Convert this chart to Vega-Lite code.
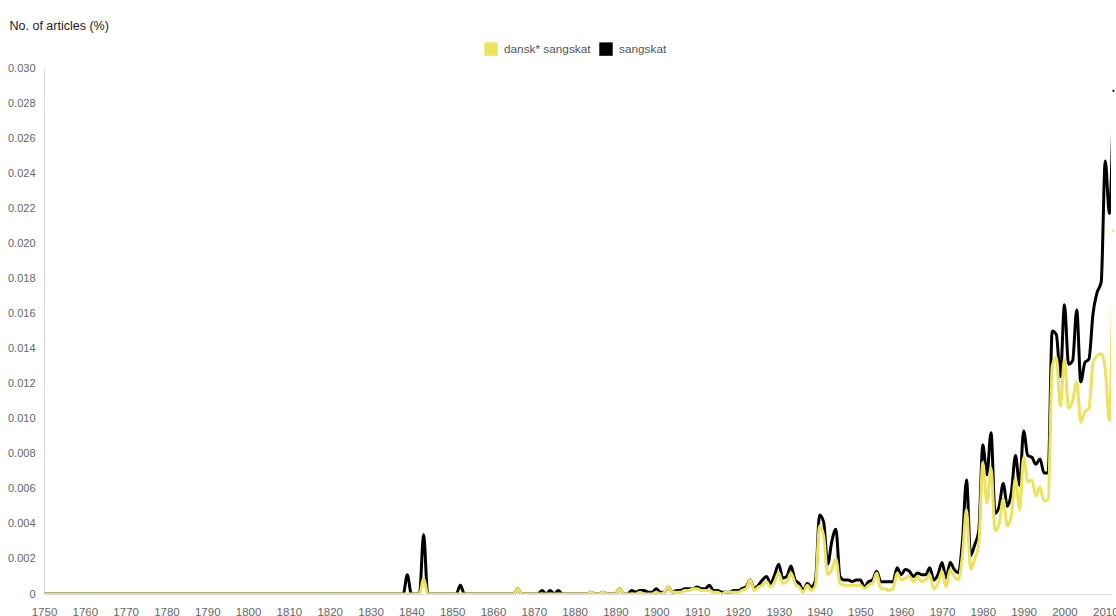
{
"$schema": "https://vega.github.io/schema/vega-lite/v6.json",
"width": 1067, "height": 526,
"autosize": {"type": "none"},
"padding": {"left": 44, "top": 68, "right": 5, "bottom": 22},
"background": "white",
"config": {"view": {"stroke": null}, "font": "Liberation Sans, Arial, sans-serif"},
"data": {"values": [
{"year":1750,"d":0,"s":0},{"year":1751,"d":0,"s":0},{"year":1752,"d":0,"s":0},{"year":1753,"d":0,"s":0},{"year":1754,"d":0,"s":0},{"year":1755,"d":0,"s":0},{"year":1756,"d":0,"s":0},{"year":1757,"d":0,"s":0},{"year":1758,"d":0,"s":0},{"year":1759,"d":0,"s":0},
{"year":1760,"d":0,"s":0},{"year":1761,"d":0,"s":0},{"year":1762,"d":0,"s":0},{"year":1763,"d":0,"s":0},{"year":1764,"d":0,"s":0},{"year":1765,"d":0,"s":0},{"year":1766,"d":0,"s":0},{"year":1767,"d":0,"s":0},{"year":1768,"d":0,"s":0},{"year":1769,"d":0,"s":0},
{"year":1770,"d":0,"s":0},{"year":1771,"d":0,"s":0},{"year":1772,"d":0,"s":0},{"year":1773,"d":0,"s":0},{"year":1774,"d":0,"s":0},{"year":1775,"d":0,"s":0},{"year":1776,"d":0,"s":0},{"year":1777,"d":0,"s":0},{"year":1778,"d":0,"s":0},{"year":1779,"d":0,"s":0},
{"year":1780,"d":0,"s":0},{"year":1781,"d":0,"s":0},{"year":1782,"d":0,"s":0},{"year":1783,"d":0,"s":0},{"year":1784,"d":0,"s":0},{"year":1785,"d":0,"s":0},{"year":1786,"d":0,"s":0},{"year":1787,"d":0,"s":0},{"year":1788,"d":0,"s":0},{"year":1789,"d":0,"s":0},
{"year":1790,"d":0,"s":0},{"year":1791,"d":0,"s":0},{"year":1792,"d":0,"s":0},{"year":1793,"d":0,"s":0},{"year":1794,"d":0,"s":0},{"year":1795,"d":0,"s":0},{"year":1796,"d":0,"s":0},{"year":1797,"d":0,"s":0},{"year":1798,"d":0,"s":0},{"year":1799,"d":0,"s":0},
{"year":1800,"d":0,"s":0},{"year":1801,"d":0,"s":0},{"year":1802,"d":0,"s":0},{"year":1803,"d":0,"s":0},{"year":1804,"d":0,"s":0},{"year":1805,"d":0,"s":0},{"year":1806,"d":0,"s":0},{"year":1807,"d":0,"s":0},{"year":1808,"d":0,"s":0},{"year":1809,"d":0,"s":0},
{"year":1810,"d":0,"s":0},{"year":1811,"d":0,"s":0},{"year":1812,"d":0,"s":0},{"year":1813,"d":0,"s":0},{"year":1814,"d":0,"s":0},{"year":1815,"d":0,"s":0},{"year":1816,"d":0,"s":0},{"year":1817,"d":0,"s":0},{"year":1818,"d":0,"s":0},{"year":1819,"d":0,"s":0},
{"year":1820,"d":0,"s":0},{"year":1821,"d":0,"s":0},{"year":1822,"d":0,"s":0},{"year":1823,"d":0,"s":0},{"year":1824,"d":0,"s":0},{"year":1825,"d":0,"s":0},{"year":1826,"d":0,"s":0},{"year":1827,"d":0,"s":0},{"year":1828,"d":0,"s":0},{"year":1829,"d":0,"s":0},
{"year":1830,"d":0,"s":0},{"year":1831,"d":0,"s":0},{"year":1832,"d":0,"s":0},{"year":1833,"d":0,"s":0},{"year":1834,"d":0,"s":0},{"year":1835,"d":0,"s":0},{"year":1836,"d":0,"s":0},{"year":1837,"d":0,"s":0},{"year":1838,"d":0,"s":0},{"year":1839,"d":0,"s":0.0011},
{"year":1840,"d":0,"s":0},{"year":1841,"d":0,"s":0},{"year":1842,"d":0,"s":0},{"year":1843,"d":0.0009,"s":0.0034},{"year":1844,"d":0,"s":0},{"year":1845,"d":0,"s":0},{"year":1846,"d":0,"s":0},{"year":1847,"d":0,"s":0},{"year":1848,"d":0,"s":0},{"year":1849,"d":0,"s":0},
{"year":1850,"d":0,"s":0},{"year":1851,"d":0,"s":0},{"year":1852,"d":0,"s":0.0005},{"year":1853,"d":0,"s":0},{"year":1854,"d":0,"s":0},{"year":1855,"d":0,"s":0},{"year":1856,"d":0,"s":0},{"year":1857,"d":0,"s":0},{"year":1858,"d":0,"s":0},{"year":1859,"d":0,"s":0},
{"year":1860,"d":0,"s":0},{"year":1861,"d":0,"s":0},{"year":1862,"d":0,"s":0},{"year":1863,"d":0,"s":0},{"year":1864,"d":0,"s":0},{"year":1865,"d":0,"s":0},{"year":1866,"d":0.0003,"s":0.0003},{"year":1867,"d":0,"s":0},{"year":1868,"d":0,"s":0},{"year":1869,"d":0,"s":0},
{"year":1870,"d":0,"s":0},{"year":1871,"d":0,"s":0},{"year":1872,"d":0,"s":0.0002},{"year":1873,"d":0,"s":0},{"year":1874,"d":0,"s":0.0002},{"year":1875,"d":0,"s":0},{"year":1876,"d":0,"s":0.0002},{"year":1877,"d":0,"s":0},{"year":1878,"d":0,"s":0},{"year":1879,"d":0,"s":0},
{"year":1880,"d":0,"s":0},{"year":1881,"d":0,"s":0},{"year":1882,"d":0,"s":0},{"year":1883,"d":0,"s":0},{"year":1884,"d":0.0001,"s":0.0001},{"year":1885,"d":0,"s":0},{"year":1886,"d":0,"s":0},{"year":1887,"d":0.0001,"s":0.0001},{"year":1888,"d":0,"s":0},{"year":1889,"d":0,"s":0},
{"year":1890,"d":0,"s":0},{"year":1891,"d":0.0003,"s":0.0003},{"year":1892,"d":0,"s":0},{"year":1893,"d":0,"s":0},{"year":1894,"d":0,"s":0.0002},{"year":1895,"d":0,"s":0.0001},{"year":1896,"d":0.0001,"s":0.0002},{"year":1897,"d":0,"s":0.0002},{"year":1898,"d":0,"s":0.0001},{"year":1899,"d":0,"s":0.0001},
{"year":1900,"d":0.0001,"s":0.0003},{"year":1901,"d":0,"s":0.0001},{"year":1902,"d":0.0001,"s":0.0001},{"year":1903,"d":0.0004,"s":0.0004},{"year":1904,"d":0.0001,"s":0.0001},{"year":1905,"d":0.0001,"s":0.0002},{"year":1906,"d":0.0001,"s":0.0002},{"year":1907,"d":0.0002,"s":0.0003},{"year":1908,"d":0.0002,"s":0.0003},{"year":1909,"d":0.0003,"s":0.0003},
{"year":1910,"d":0.0003,"s":0.0004},{"year":1911,"d":0.0002,"s":0.0003},{"year":1912,"d":0.0002,"s":0.0003},{"year":1913,"d":0.0002,"s":0.0005},{"year":1914,"d":0.0001,"s":0.0002},{"year":1915,"d":0.0001,"s":0.0002},{"year":1916,"d":0,"s":0.0001},{"year":1917,"d":0.0001,"s":0.0001},{"year":1918,"d":0.0001,"s":0.0001},{"year":1919,"d":0.0001,"s":0.0002},
{"year":1920,"d":0.0001,"s":0.0002},{"year":1921,"d":0.0002,"s":0.0003},{"year":1922,"d":0.0003,"s":0.0004},{"year":1923,"d":0.0008,"s":0.0008},{"year":1924,"d":0.0002,"s":0.0003},{"year":1925,"d":0.0004,"s":0.0005},{"year":1926,"d":0.0005,"s":0.0008},{"year":1927,"d":0.0007,"s":0.0010},{"year":1928,"d":0.0004,"s":0.0006},{"year":1929,"d":0.0007,"s":0.0011},
{"year":1930,"d":0.0012,"s":0.0017},{"year":1931,"d":0.0006,"s":0.0009},{"year":1932,"d":0.0007,"s":0.0010},{"year":1933,"d":0.0012,"s":0.0016},{"year":1934,"d":0.0006,"s":0.0008},{"year":1935,"d":0.0004,"s":0.0006},{"year":1936,"d":0.0001,"s":0.0002},{"year":1937,"d":0.0005,"s":0.0006},{"year":1938,"d":0.0002,"s":0.0004},{"year":1939,"d":0.0005,"s":0.0008},
{"year":1940,"d":0.0039,"s":0.0045},{"year":1941,"d":0.0033,"s":0.0041},{"year":1942,"d":0.0011,"s":0.0017},{"year":1943,"d":0.0014,"s":0.0030},{"year":1944,"d":0.0020,"s":0.0037},{"year":1945,"d":0.0006,"s":0.0010},{"year":1946,"d":0.0005,"s":0.0008},{"year":1947,"d":0.0005,"s":0.0008},{"year":1948,"d":0.0005,"s":0.0007},{"year":1949,"d":0.0005,"s":0.0008},
{"year":1950,"d":0.0005,"s":0.0008},{"year":1951,"d":0.0003,"s":0.0004},{"year":1952,"d":0.0005,"s":0.0007},{"year":1953,"d":0.0006,"s":0.0008},{"year":1954,"d":0.0012,"s":0.0013},{"year":1955,"d":0.0003,"s":0.0007},{"year":1956,"d":0.0003,"s":0.0007},{"year":1957,"d":0.0002,"s":0.0007},{"year":1958,"d":0.0003,"s":0.0007},{"year":1959,"d":0.0012,"s":0.0015},
{"year":1960,"d":0.0008,"s":0.0011},{"year":1961,"d":0.0009,"s":0.0014},{"year":1962,"d":0.0010,"s":0.0013},{"year":1963,"d":0.0007,"s":0.0010},{"year":1964,"d":0.0010,"s":0.0012},{"year":1965,"d":0.0007,"s":0.0011},{"year":1966,"d":0.0008,"s":0.0011},{"year":1967,"d":0.0011,"s":0.0015},{"year":1968,"d":0.0003,"s":0.0008},{"year":1969,"d":0.0006,"s":0.0011},
{"year":1970,"d":0.0013,"s":0.0018},{"year":1971,"d":0.0004,"s":0.0009},{"year":1972,"d":0.0014,"s":0.0018},{"year":1973,"d":0.0010,"s":0.0014},{"year":1974,"d":0.0008,"s":0.0012},{"year":1975,"d":0.0022,"s":0.0030},{"year":1976,"d":0.0048,"s":0.0065},{"year":1977,"d":0.0014,"s":0.0022},{"year":1978,"d":0.0020,"s":0.0028},{"year":1979,"d":0.0028,"s":0.0036},
{"year":1980,"d":0.0075,"s":0.0085},{"year":1981,"d":0.0052,"s":0.0068},{"year":1982,"d":0.0072,"s":0.0092},{"year":1983,"d":0.0036,"s":0.0046},{"year":1984,"d":0.0040,"s":0.0050},{"year":1985,"d":0.0054,"s":0.0063},{"year":1986,"d":0.0039,"s":0.0050},{"year":1987,"d":0.0045,"s":0.0058},{"year":1988,"d":0.0066,"s":0.0079},{"year":1989,"d":0.0048,"s":0.0062},
{"year":1990,"d":0.0078,"s":0.0093},{"year":1991,"d":0.0064,"s":0.0079},{"year":1992,"d":0.0065,"s":0.0078},{"year":1993,"d":0.0056,"s":0.0074},{"year":1994,"d":0.0061,"s":0.0077},{"year":1995,"d":0.0053,"s":0.0069},{"year":1996,"d":0.0054,"s":0.0069},{"year":1997,"d":0.0130,"s":0.0150},{"year":1998,"d":0.0135,"s":0.0148},{"year":1999,"d":0.0107,"s":0.0124},
{"year":2000,"d":0.0134,"s":0.0165},{"year":2001,"d":0.0106,"s":0.0131},{"year":2002,"d":0.0110,"s":0.0133},{"year":2003,"d":0.0121,"s":0.0162},{"year":2004,"d":0.0098,"s":0.0121},{"year":2005,"d":0.0104,"s":0.0132},{"year":2006,"d":0.0106,"s":0.0134},{"year":2007,"d":0.0132,"s":0.0160},{"year":2008,"d":0.0136,"s":0.0172},{"year":2009,"d":0.0137,"s":0.0178},
{"year":2010,"d":0.0128,"s":0.0247},{"year":2011,"d":0.0099,"s":0.0217},{"year":2012,"d":0.0207,"s":0.0287}
]},
"transform": [
  {"fold": ["d", "s"], "as": ["series", "value"]}
],
"encoding": {
  "x": {"field": "year", "type": "quantitative",
        "scale": {"domain": [1750, 2011.4], "nice": false, "zero": false},
        "axis": {"values": [1750,1760,1770,1780,1790,1800,1810,1820,1830,1840,1850,1860,1870,1880,1890,1900,1910,1920,1930,1940,1950,1960,1970,1980,1990,2000,2010],
                 "format": "d", "title": null, "ticks": false, "grid": false,
                 "domainColor": "#dddddd", "domainWidth": 1,
                 "labelColor": "#666666", "labelFontSize": 11.5, "labelPadding": 12,
                 "labelFlush": false, "labelOverlap": false}},
  "y": {"field": "value", "type": "quantitative",
        "scale": {"domain": [0, 0.03], "nice": false},
        "axis": {"values": [0,0.002,0.004,0.006,0.008,0.010,0.012,0.014,0.016,0.018,0.020,0.022,0.024,0.026,0.028,0.030],
                 "labelExpr": "datum.value == 0 ? '0' : format(datum.value, '.3f')",
                 "ticks": false, "grid": false,
                 "domainColor": "#dddddd", "domainWidth": 1,
                 "labelColor": "#666666", "labelFontSize": 11, "labelPadding": 9,
                 "title": "No. of articles (%)", "titleAngle": 0, "titleAlign": "left",
                 "titleBaseline": "alphabetic", "titleX": -35, "titleY": -39,
                 "titleFontSize": 12.5, "titleFontWeight": "normal", "titleColor": "#222222"}},
  "color": {"field": "series", "type": "nominal",
            "scale": {"domain": ["d", "s"], "range": ["#ECE25B", "#000000"]},
            "legend": {"orient": "none", "legendX": 440, "legendY": -26, "direction": "horizontal",
                       "title": null, "symbolType": "square", "symbolSize": 180,
                       "labelFontSize": 11.8, "labelColor": "#555555", "labelOffset": 6,
                       "columnPadding": 8, "padding": 0,
                       "labelExpr": "datum.value == 'd' ? 'dansk* sangskat' : 'sangskat'",
                       "encode": {"symbols": {"update": {"fill": {"scale": "color", "field": "value"}, "fillOpacity": {"value": 1}, "strokeWidth": {"value": 0}}}}}}
},
"layer": [
  {"transform": [{"filter": "datum.series === 's'"}],
   "mark": {"type": "line", "interpolate": "monotone", "strokeWidth": 3, "clip": true}},
  {"transform": [{"filter": "datum.series === 'd'"}],
   "mark": {"type": "line", "interpolate": "monotone", "strokeWidth": 3, "clip": true}},
  {"transform": [{"filter": "datum.year == 2012"}],
   "mark": {"type": "point", "filled": true, "size": 5, "opacity": 1, "clip": false}}
]
}
